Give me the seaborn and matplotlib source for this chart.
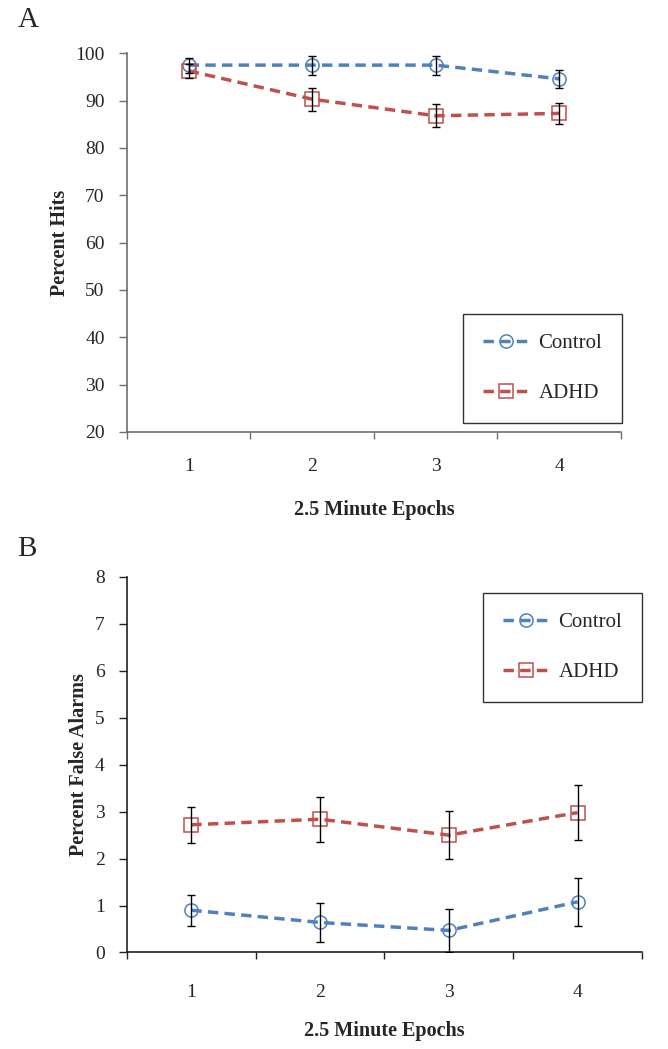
import numpy as np
import pandas as pd
import matplotlib
matplotlib.use("Agg")
import matplotlib.pyplot as plt
import seaborn as sns

# ---------------- data ----------------
epochs = ["1", "2", "3", "4"]
groups = ["Control", "ADHD"]

hits_control = [97.5, 97.5, 97.5, 94.6]
hits_control_err = [1.6, 2.0, 2.0, 1.9]
hits_adhd = [96.3, 90.3, 86.8, 87.3]
hits_adhd_err = [1.5, 2.4, 2.4, 2.3]

fa_control = [0.90, 0.64, 0.47, 1.08]
fa_control_err = [0.33, 0.42, 0.45, 0.51]
fa_adhd = [2.72, 2.84, 2.50, 2.98]
fa_adhd_err = [0.38, 0.48, 0.51, 0.58]

hits_yticks = [20, 30, 40, 50, 60, 70, 80, 90, 100]
fa_yticks = [0, 1, 2, 3, 4, 5, 6, 7, 8]

# ---------------- style ----------------
sns.set_theme(style="white")
plt.rcParams["font.family"] = ["Liberation Serif", "DejaVu Serif"]

palette = {"Control": "#4F81BD", "ADHD": "#C0504D"}
markers = {"Control": "o", "ADHD": "s"}
dashes = {"Control": (3.0, 1.8), "ADHD": (3.0, 1.8)}


def make_df(control, control_err, adhd, adhd_err):
    pos = np.arange(len(epochs))
    return pd.DataFrame({
        "pos": np.concatenate([pos, pos]),
        "value": control + adhd,
        "err": control_err + adhd_err,
        "group": ["Control"] * len(epochs) + ["ADHD"] * len(epochs),
    })


def draw(ax, df, yticks, ylabel, legend_anchor, axc, xpad, xlabelpad, ylabelpad):
    sns.lineplot(data=df, x="pos", y="value", hue="group", style="group",
                 hue_order=groups, style_order=groups,
                 palette=palette, markers=markers, dashes=dashes,
                 linewidth=2.5, markersize=9.5, legend=False, ax=ax,
                 errorbar=None, zorder=3)
    handles = []
    for line in ax.lines[:2]:
        c = line.get_color()
        line.set_markerfacecolor("none")
        line.set_markeredgecolor(c)
        line.set_markeredgewidth(1.1)
        handles.append(line)
    for g in groups:
        sub = df[df["group"] == g]
        ax.errorbar(sub["pos"], sub["value"], yerr=sub["err"], fmt="none",
                    ecolor="black", elinewidth=1.0, capsize=3.0,
                    capthick=1.0, zorder=4)

    n = len(epochs)
    ax.set_xlim(-0.5, n - 0.5)
    ax.set_ylim(yticks[0], yticks[-1])
    ax.set_yticks(yticks)
    ax.set_yticklabels([str(t) for t in yticks])
    ax.set_xticks(np.arange(n + 1) - 0.5)
    ax.set_xticklabels([""] * (n + 1))
    ax.set_xticks(np.arange(n), minor=True)
    ax.set_xticklabels(epochs, minor=True)
    ax.tick_params(axis="x", which="major", direction="out", length=5,
                   width=1, color=axc, bottom=True)
    ax.tick_params(axis="x", which="minor", length=0, pad=xpad, labelsize=14)
    ax.tick_params(axis="y", direction="out", length=6, width=1, color=axc,
                   left=True, pad=10, labelsize=14)
    for s in ["top", "right"]:
        ax.spines[s].set_visible(False)
    for s in ["left", "bottom"]:
        ax.spines[s].set_color(axc)
        ax.spines[s].set_linewidth(1.2)
    ax.set_xlabel("2.5 Minute Epochs", fontweight="bold", fontsize=14.5,
                  labelpad=xlabelpad)
    ax.set_ylabel(ylabel, fontweight="bold", fontsize=14.5, labelpad=ylabelpad)

    leg = ax.legend(handles=handles, labels=groups, loc="upper right",
                    bbox_to_anchor=legend_anchor, fontsize=15,
                    frameon=True, fancybox=False, handlelength=2.2,
                    labelspacing=1.45, borderpad=0.95, handletextpad=0.45,
                    borderaxespad=0)
    leg.get_frame().set_edgecolor("black")
    leg.get_frame().set_linewidth(1.0)


fig = plt.figure(figsize=(6.68, 10.49), dpi=100)
axA = fig.add_axes([0.190, 0.5882, 0.7395, 0.3610])
axB = fig.add_axes([0.190, 0.0920, 0.7710, 0.3580])

draw(axA, make_df(hits_control, hits_control_err, hits_adhd, hits_adhd_err),
     hits_yticks, "Percent Hits", (1.002, 0.3116), "#6e6e6e", 19, 18, 4)
draw(axB, make_df(fa_control, fa_control_err, fa_adhd, fa_adhd_err),
     fa_yticks, "Percent False Alarms", (1.0, 0.957), "#222222", 23, 14, 4)

fig.text(0.026, 0.981, "A", fontsize=21, va="center", ha="left")
fig.text(0.026, 0.477, "B", fontsize=21, va="center", ha="left")

fig.savefig("out.png", dpi=100, facecolor="white")
